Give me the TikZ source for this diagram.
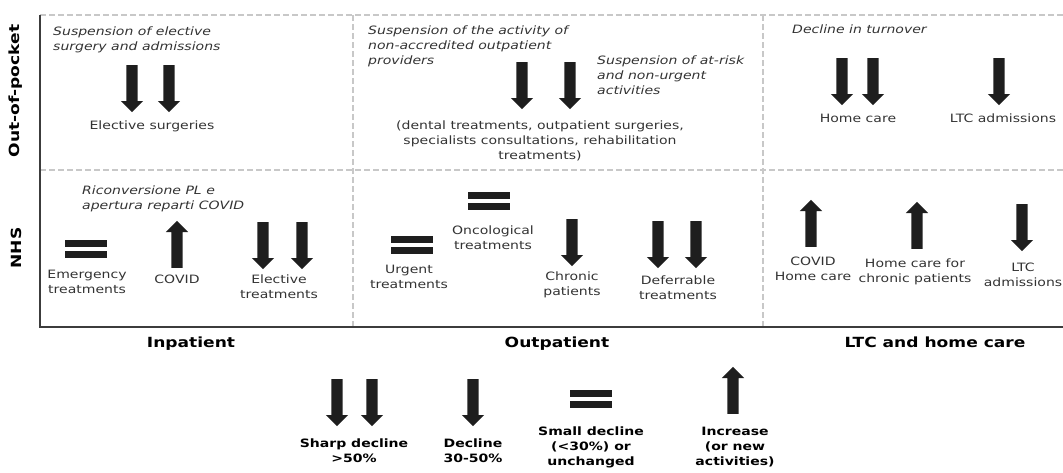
\documentclass[tikz,border=0pt]{standalone}
\usepackage{fontspec}
\setmainfont{DejaVu Sans}[FakeStretch=1.22]
\usetikzlibrary{shapes.arrows,positioning}
\definecolor{txt}{HTML}{333333}
\definecolor{gridc}{HTML}{C8C8C8}
\definecolor{axisc}{HTML}{3C3C3C}
\definecolor{arrowc}{HTML}{1E1E1E}
\tikzset{x=1pt, y=-1pt, % pixel units, y runs down the page
every node/.style={inner sep=0pt, text=txt},
lbl/.style={font=\fontsize{11.5}{15}\selectfont, align=center, anchor=base}, % plain labels, placed at their last line
note/.style={font=\fontsize{11.5}{15}\selectfont\itshape, align=left, anchor=base west}, % italic remarks
axis/.style={font=\fontsize{14}{16}\selectfont\bfseries, text=black}, % row and column titles
key/.style={font=\fontsize{11.5}{15}\selectfont\bfseries, align=center, anchor=base, text=black}, % legend texts
blockarrow/.style={single arrow, fill=arrowc, draw=none, minimum height=47pt, minimum width=22pt,
  single arrow head extend=5.5pt, inner xsep=0pt, inner ysep=5.5pt, anchor=tail},
decline/.style={blockarrow, rotate=-90}, % tail at the top
increase/.style={blockarrow, rotate=90}, % tail at the bottom
gridline/.style={draw=gridc, line width=1.5pt, dash pattern=on 6pt off 3pt},
axisline/.style={draw=axisc, line width=2pt},
unchanged/.pic={\fill[arrowc] (-21,-9) rectangle (21,-2); \fill[arrowc] (-21,2) rectangle (21,9);},
}
\begin{document}
\begin{tikzpicture}
\useasboundingbox (0,0) rectangle (1063,472);
% frame
\coordinate (tl) at (40,15);
\coordinate (o) at (40,327);
\coordinate (br) at (1063,327);
\draw[gridline] (tl) -- (1063,15);
\draw[gridline] (40,170) -- (1063,170);
\draw[gridline] (353,15) -- (353,327);
\draw[gridline] (763,15) -- (763,327);
\draw[axisline] (tl) -- (o) -- (br);
% titles
\node[axis, rotate=90] (oop) at (16,91) {Out-of-pocket};
\node[axis, rotate=90] (nhs) at (16,248) {NHS};
\node[axis, anchor=base] (inp) at (191,347) {Inpatient};
\node[axis, anchor=base] (outp) at (557,347) {Outpatient};
\node[axis, anchor=base] (ltc) at (935,347) {LTC and home care};
% out-of-pocket, inpatient
\node[note] (n1) at (53,50) {Suspension of elective\\surgery and admissions};
\node[decline] (a1) at (132,65) {};
\node[decline] (a2) at (169,65) {};
\node[lbl] (l1) at (152,129) {Elective surgeries};
% out-of-pocket, outpatient
\node[note] (n2) at (368,64) {Suspension of the activity of\\non-accredited outpatient\\providers};
\node[decline] (a3) at (522,62) {};
\node[decline] (a4) at (570,62) {};
\node[note] (n3) at (597,94) {Suspension of at-risk\\and non-urgent\\activities};
\node[lbl] (l2) at (540,159) {(dental treatments, outpatient surgeries,\\specialists consultations, rehabilitation\\treatments)};
% out-of-pocket, LTC
\node[note] (n4) at (792,33) {Decline in turnover};
\node[decline] (a5) at (842,58) {};
\node[decline] (a6) at (873,58) {};
\node[decline] (a7) at (999,58) {};
\node[lbl] (l3) at (858,122) {Home care};
\node[lbl] (l4) at (1003,122) {LTC admissions};
% NHS, inpatient
\node[note] (n5) at (82,209) {Riconversione PL e\\apertura reparti COVID};
\pic at (86,249) {unchanged};
\node[lbl] (l5) at (87,293) {Emergency\\treatments};
\node[increase] (a8) at (177,268) {};
\node[lbl] (l6) at (177,283) {COVID};
\node[decline] (a9) at (263,222) {};
\node[decline] (a10) at (302,222) {};
\node[lbl] (l7) at (279,298) {Elective\\treatments};
% NHS, outpatient
\pic at (412,245) {unchanged};
\node[lbl] (l8) at (409,288) {Urgent\\treatments};
\pic at (489,201) {unchanged};
\node[lbl] (l9) at (493,249) {Oncological\\treatments};
\node[decline] (a11) at (572,219) {};
\node[lbl] (l10) at (572,295) {Chronic\\patients};
\node[decline] (a12) at (658,221) {};
\node[decline] (a13) at (696,221) {};
\node[lbl] (l11) at (678,299) {Deferrable\\treatments};
% NHS, LTC
\node[increase] (a14) at (811,247) {};
\node[lbl] (l12) at (813,280) {COVID\\Home care};
\node[increase] (a15) at (917,249) {};
\node[lbl] (l13) at (915,282) {Home care for\\chronic patients};
\node[decline] (a16) at (1022,204) {};
\node[lbl] (l14) at (1023,286) {LTC\\admissions};
% legend
\node[decline] (k1) at (337,379) {};
\node[decline] (k2) at (372,379) {};
\node[key] (t1) at (354,462) {Sharp decline\\>50\%};
\node[decline] (k3) at (473,379) {};
\node[key] (t2) at (473,462) {Decline\\30-50\%};
\pic at (591,399) {unchanged};
\node[key] (t3) at (591,465) {Small decline\\(<30\%) or\\unchanged};
\node[increase] (k4) at (733,414) {};
\node[key] (t4) at (735,465) {Increase\\(or new\\activities)};
\end{tikzpicture}
\end{document}
